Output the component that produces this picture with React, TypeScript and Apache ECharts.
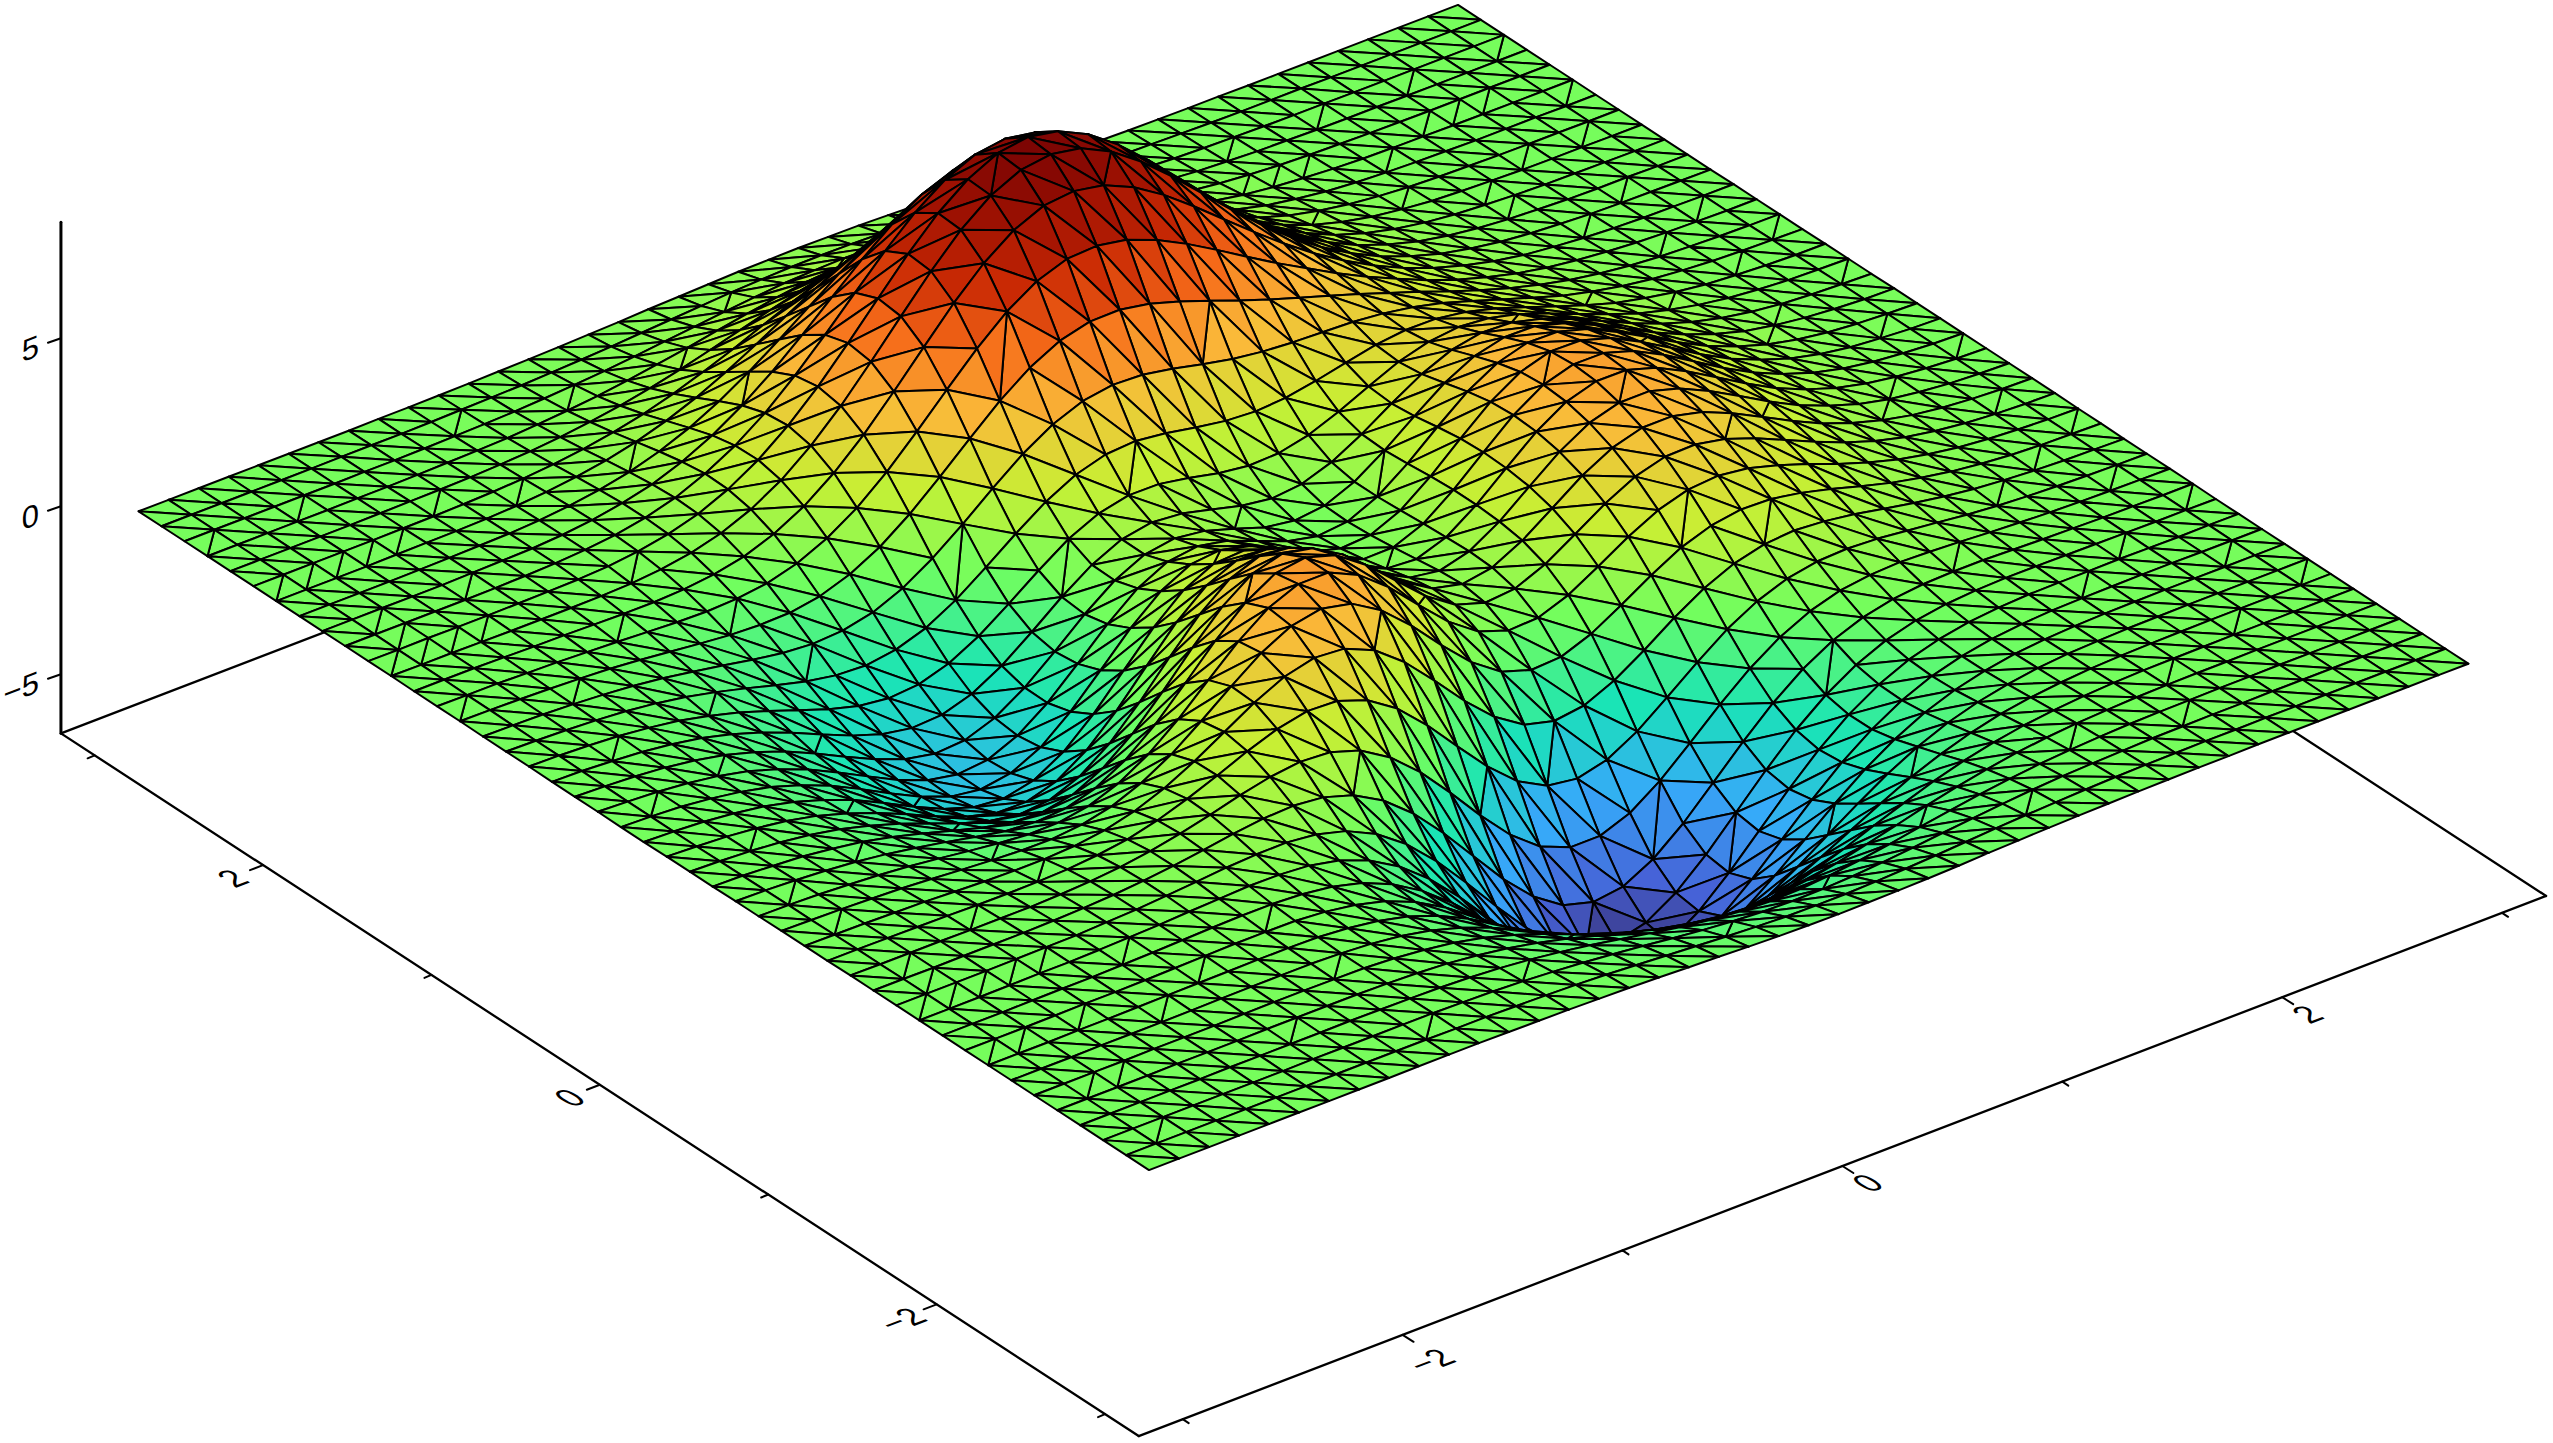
import React, { useEffect, useRef } from "react";
import * as echarts from "echarts";

// Grid positions along both ground axes.
const gridCoords = [-3,-2.864,-2.727,-2.591,-2.455,-2.318,-2.182,-2.045,-1.909,-1.773,-1.636,-1.5,-1.364,-1.227,-1.091,-0.955,-0.818,-0.682,-0.545,-0.409,-0.273,-0.136,0,0.136,0.273,0.409,0.545,0.682,0.818,0.955,1.091,1.227,1.364,1.5,1.636,1.773,1.909,2.045,2.182,2.318,2.455,2.591,2.727,2.864,3];

// Heights: typed, hand-worked estimates. Vertex-level values could not be read one by one from the
// picture, so they were worked out by hand from the surface's recognised shape (the "peaks" surface)
// and checked against its corners and peaks in the reference. One row per y, one column per x.
const heightRows = [
[0,0,0,0,0,0,0,0,0,0.01,0.01,0.01,0,-0.01,-0.02,-0.04,-0.06,-0.09,-0.13,-0.16,-0.2,-0.23,-0.25,-0.26,-0.25,-0.24,-0.22,-0.19,-0.15,-0.12,-0.09,-0.07,-0.05,-0.03,-0.02,-0.01,-0.01,0,0,0,0,0,0,0,0],
[0,0,0,0,0,0,0,0.01,0.01,0.01,0.01,0,0,-0.02,-0.04,-0.07,-0.11,-0.17,-0.23,-0.29,-0.35,-0.4,-0.44,-0.45,-0.45,-0.42,-0.38,-0.33,-0.27,-0.21,-0.16,-0.12,-0.08,-0.05,-0.03,-0.02,-0.01,-0.01,0,0,0,0,0,0,0],
[0,0,0,0,0,0,0,0.01,0.01,0.01,0.01,0.01,-0.01,-0.03,-0.07,-0.13,-0.2,-0.29,-0.39,-0.5,-0.6,-0.68,-0.74,-0.76,-0.75,-0.71,-0.64,-0.55,-0.45,-0.36,-0.27,-0.19,-0.13,-0.09,-0.06,-0.03,-0.02,-0.01,-0.01,0,0,0,0,0,0],
[0,0,0,0,0,0.01,0.01,0.01,0.01,0.02,0.01,0,-0.02,-0.06,-0.12,-0.21,-0.33,-0.47,-0.63,-0.8,-0.96,-1.09,-1.18,-1.22,-1.2,-1.13,-1.02,-0.88,-0.72,-0.57,-0.43,-0.31,-0.21,-0.14,-0.09,-0.05,-0.03,-0.02,-0.01,-0.01,0,0,0,0,0],
[0,0,0,0,0.01,0.01,0.01,0.02,0.02,0.02,0.02,0,-0.03,-0.09,-0.19,-0.32,-0.5,-0.72,-0.97,-1.22,-1.46,-1.66,-1.8,-1.86,-1.83,-1.72,-1.55,-1.33,-1.1,-0.86,-0.65,-0.47,-0.32,-0.21,-0.13,-0.08,-0.04,-0.02,-0.01,-0.01,0,0,0,0,0],
[0,0,0,0,0.01,0.01,0.01,0.02,0.03,0.03,0.02,0.01,-0.04,-0.13,-0.26,-0.45,-0.71,-1.02,-1.38,-1.75,-2.09,-2.39,-2.58,-2.67,-2.63,-2.48,-2.23,-1.92,-1.57,-1.24,-0.93,-0.67,-0.46,-0.3,-0.19,-0.11,-0.06,-0.03,-0.02,-0.01,0,0,0,0,0],
[0,0,0,0.01,0.01,0.01,0.02,0.03,0.04,0.04,0.04,0.01,-0.05,-0.16,-0.34,-0.6,-0.94,-1.36,-1.85,-2.35,-2.83,-3.23,-3.51,-3.63,-3.58,-3.38,-3.04,-2.61,-2.15,-1.69,-1.26,-0.91,-0.62,-0.4,-0.25,-0.15,-0.08,-0.04,-0.02,-0.01,0,0,0,0,0],
[0,0,0,0.01,0.01,0.02,0.03,0.04,0.05,0.06,0.06,0.04,-0.03,-0.16,-0.37,-0.69,-1.12,-1.65,-2.27,-2.91,-3.53,-4.07,-4.44,-4.61,-4.56,-4.31,-3.88,-3.34,-2.74,-2.15,-1.6,-1.14,-0.77,-0.5,-0.31,-0.17,-0.09,-0.05,-0.02,-0.01,0,0,0,0,0],
[0,0,0,0.01,0.02,0.02,0.03,0.05,0.07,0.09,0.09,0.08,0.01,-0.13,-0.36,-0.72,-1.23,-1.86,-2.61,-3.4,-4.17,-4.84,-5.31,-5.55,-5.51,-5.22,-4.71,-4.05,-3.32,-2.59,-1.92,-1.36,-0.91,-0.58,-0.35,-0.19,-0.1,-0.05,-0.02,-0.01,0,0,0,0,0],
[0,0,0,0.01,0.02,0.02,0.04,0.06,0.09,0.12,0.14,0.14,0.09,-0.03,-0.26,-0.64,-1.18,-1.88,-2.72,-3.63,-4.53,-5.33,-5.92,-6.23,-6.22,-5.92,-5.35,-4.6,-3.76,-2.92,-2.15,-1.51,-0.99,-0.61,-0.36,-0.19,-0.09,-0.03,-0.01,0,0.01,0.01,0,0,0],
[0,0,0,0.01,0.02,0.02,0.04,0.07,0.1,0.15,0.19,0.23,0.22,0.15,-0.04,-0.38,-0.9,-1.61,-2.49,-3.47,-4.46,-5.37,-6.07,-6.47,-6.53,-6.24,-5.66,-4.86,-3.96,-3.05,-2.22,-1.52,-0.97,-0.57,-0.31,-0.14,-0.05,0,0.01,0.01,0.02,0.01,0,0.01,0],
[0,0,0,0,0.01,0.02,0.03,0.07,0.11,0.18,0.25,0.33,0.38,0.39,0.29,0.05,-0.38,-1.02,-1.87,-2.86,-3.9,-4.89,-5.68,-6.18,-6.32,-6.1,-5.55,-4.76,-3.85,-2.93,-2.08,-1.38,-0.83,-0.44,-0.19,-0.05,0.02,0.05,0.05,0.04,0.03,0.02,0.01,0.01,0],
[0,0,-0.01,0,0,0,0.02,0.05,0.1,0.18,0.28,0.41,0.55,0.66,0.7,0.61,0.33,-0.17,-0.9,-1.82,-2.85,-3.88,-4.74,-5.34,-5.59,-5.47,-5,-4.28,-3.41,-2.53,-1.72,-1.05,-0.54,-0.2,0,0.1,0.13,0.13,0.1,0.07,0.05,0.03,0.02,0.01,0.01],
[0,-0.01,-0.01,-0.01,-0.02,-0.02,-0.02,0.01,0.06,0.14,0.27,0.45,0.67,0.91,1.11,1.22,1.16,0.87,0.32,-0.46,-1.41,-2.43,-3.35,-4.04,-4.41,-4.41,-4.07,-3.45,-2.68,-1.87,-1.14,-0.55,-0.12,0.15,0.27,0.31,0.28,0.23,0.17,0.12,0.08,0.05,0.03,0.02,0.01],
[-0.01,-0.01,-0.02,-0.03,-0.04,-0.06,-0.07,-0.06,-0.03,0.05,0.18,0.4,0.7,1.05,1.43,1.75,1.94,1.9,1.58,0.99,0.15,-0.82,-1.76,-2.54,-3.02,-3.15,-2.93,-2.43,-1.76,-1.06,-0.42,0.07,0.4,0.57,0.61,0.56,0.46,0.36,0.25,0.17,0.11,0.07,0.04,0.02,0.01],
[-0.01,-0.02,-0.03,-0.05,-0.07,-0.11,-0.15,-0.17,-0.17,-0.12,0,0.23,0.57,1.03,1.56,2.09,2.52,2.74,2.67,2.28,1.59,0.69,-0.25,-1.07,-1.65,-1.88,-1.76,-1.36,-0.8,-0.18,0.36,0.75,0.98,1.05,0.98,0.85,0.67,0.5,0.35,0.23,0.15,0.09,0.05,0.03,0.01],
[-0.01,-0.03,-0.05,-0.08,-0.12,-0.18,-0.25,-0.31,-0.36,-0.37,-0.28,-0.08,0.28,0.79,1.44,2.13,2.78,3.24,3.41,3.22,2.68,1.88,0.96,0.11,-0.52,-0.81,-0.76,-0.42,0.09,0.64,1.12,1.43,1.57,1.54,1.38,1.15,0.89,0.65,0.46,0.3,0.19,0.11,0.06,0.04,0.02],
[-0.02,-0.03,-0.06,-0.11,-0.17,-0.25,-0.36,-0.48,-0.59,-0.67,-0.66,-0.51,-0.18,0.35,1.05,1.87,2.68,3.33,3.7,3.7,3.29,2.58,1.71,0.87,0.23,-0.08,-0.04,0.29,0.8,1.34,1.79,2.06,2.13,2.01,1.76,1.45,1.11,0.81,0.56,0.37,0.23,0.14,0.08,0.04,0.02],
[-0.02,-0.04,-0.08,-0.14,-0.22,-0.34,-0.49,-0.66,-0.85,-1.02,-1.09,-1.03,-0.77,-0.27,0.45,1.33,2.25,3.04,3.57,3.7,3.43,2.8,1.99,1.19,0.58,0.3,0.38,0.76,1.31,1.88,2.34,2.59,2.61,2.43,2.11,1.72,1.32,0.96,0.66,0.43,0.27,0.16,0.09,0.05,0.03],
[-0.03,-0.05,-0.1,-0.16,-0.27,-0.41,-0.61,-0.85,-1.11,-1.36,-1.54,-1.58,-1.41,-0.97,-0.28,0.62,1.6,2.48,3.12,3.37,3.19,2.66,1.91,1.17,0.62,0.41,0.56,1.02,1.64,2.27,2.75,3.01,3.01,2.79,2.41,1.96,1.5,1.08,0.75,0.49,0.3,0.18,0.1,0.05,0.03],
[-0.03,-0.06,-0.11,-0.19,-0.31,-0.48,-0.72,-1,-1.34,-1.68,-1.95,-2.09,-2.01,-1.65,-1.01,-0.13,0.87,1.8,2.51,2.85,2.76,2.3,1.64,0.97,0.5,0.36,0.6,1.14,1.84,2.53,3.05,3.31,3.31,3.05,2.63,2.14,1.63,1.18,0.82,0.53,0.33,0.2,0.11,0.06,0.03],
[-0.03,-0.07,-0.12,-0.21,-0.34,-0.53,-0.8,-1.13,-1.51,-1.92,-2.27,-2.5,-2.51,-2.24,-1.66,-0.83,0.16,1.12,1.87,2.27,2.26,1.88,1.3,0.72,0.32,0.26,0.57,1.19,1.94,2.68,3.23,3.5,3.49,3.22,2.77,2.25,1.72,1.24,0.86,0.56,0.35,0.21,0.12,0.06,0.03],
[-0.04,-0.07,-0.12,-0.22,-0.35,-0.56,-0.84,-1.19,-1.62,-2.07,-2.48,-2.77,-2.86,-2.66,-2.15,-1.37,-0.42,0.52,1.29,1.73,1.78,1.48,0.98,0.48,0.16,0.17,0.53,1.19,1.97,2.73,3.29,3.56,3.55,3.27,2.82,2.28,1.74,1.26,0.87,0.57,0.35,0.21,0.12,0.06,0.03],
[-0.04,-0.07,-0.12,-0.22,-0.36,-0.56,-0.85,-1.21,-1.65,-2.12,-2.56,-2.9,-3.03,-2.89,-2.46,-1.74,-0.85,0.06,0.81,1.27,1.36,1.13,0.7,0.28,0.03,0.09,0.48,1.15,1.93,2.68,3.23,3.5,3.48,3.21,2.76,2.24,1.7,1.23,0.85,0.55,0.34,0.2,0.12,0.06,0.03],
[-0.03,-0.07,-0.12,-0.21,-0.34,-0.54,-0.82,-1.17,-1.6,-2.06,-2.51,-2.86,-3.03,-2.94,-2.56,-1.93,-1.11,-0.27,0.45,0.9,1.02,0.84,0.49,0.14,-0.05,0.04,0.44,1.08,1.83,2.54,3.05,3.31,3.29,3.03,2.6,2.11,1.61,1.16,0.8,0.52,0.32,0.19,0.11,0.06,0.03],
[-0.03,-0.06,-0.11,-0.19,-0.32,-0.5,-0.76,-1.08,-1.48,-1.92,-2.34,-2.68,-2.86,-2.8,-2.48,-1.92,-1.19,-0.42,0.24,0.67,0.81,0.69,0.41,0.11,-0.03,0.07,0.44,1.03,1.71,2.35,2.81,3.03,3.01,2.76,2.37,1.92,1.46,1.06,0.73,0.47,0.3,0.18,0.1,0.05,0.03],
[-0.03,-0.05,-0.1,-0.17,-0.28,-0.44,-0.67,-0.96,-1.31,-1.7,-2.08,-2.38,-2.54,-2.49,-2.21,-1.71,-1.05,-0.35,0.26,0.68,0.84,0.76,0.54,0.31,0.18,0.27,0.58,1.07,1.64,2.17,2.55,2.72,2.68,2.45,2.1,1.7,1.29,0.93,0.64,0.42,0.26,0.15,0.09,0.05,0.02],
[-0.02,-0.04,-0.08,-0.14,-0.24,-0.37,-0.57,-0.81,-1.11,-1.43,-1.74,-1.99,-2.1,-2.03,-1.75,-1.28,-0.66,-0.01,0.59,1,1.2,1.19,1.03,0.83,0.71,0.74,0.94,1.29,1.7,2.09,2.34,2.44,2.36,2.14,1.82,1.46,1.11,0.79,0.55,0.36,0.22,0.13,0.07,0.04,0.02],
[-0.02,-0.04,-0.07,-0.12,-0.19,-0.3,-0.45,-0.65,-0.88,-1.13,-1.36,-1.52,-1.57,-1.44,-1.14,-0.65,-0.02,0.64,1.25,1.71,1.97,2.03,1.92,1.75,1.6,1.54,1.6,1.76,1.96,2.15,2.25,2.24,2.1,1.86,1.56,1.24,0.93,0.66,0.46,0.3,0.18,0.11,0.06,0.03,0.02],
[-0.02,-0.03,-0.05,-0.09,-0.15,-0.23,-0.34,-0.49,-0.65,-0.82,-0.96,-1.03,-0.98,-0.78,-0.4,0.15,0.82,1.54,2.22,2.76,3.11,3.25,3.21,3.05,2.84,2.65,2.53,2.46,2.42,2.38,2.29,2.14,1.92,1.64,1.34,1.05,0.77,0.55,0.37,0.24,0.15,0.09,0.05,0.03,0.01],
[-0.01,-0.02,-0.04,-0.07,-0.11,-0.16,-0.24,-0.34,-0.44,-0.53,-0.57,-0.55,-0.4,-0.09,0.38,1.02,1.78,2.58,3.36,4,4.46,4.69,4.7,4.54,4.26,3.94,3.61,3.29,3,2.72,2.43,2.12,1.81,1.48,1.17,0.89,0.65,0.45,0.3,0.19,0.11,0.07,0.04,0.02,0.01],
[-0.01,-0.02,-0.02,-0.05,-0.07,-0.11,-0.15,-0.2,-0.25,-0.27,-0.23,-0.12,0.13,0.54,1.1,1.83,2.69,3.59,4.47,5.23,5.79,6.11,6.16,6,5.65,5.19,4.67,4.12,3.59,3.09,2.6,2.16,1.75,1.37,1.04,0.77,0.54,0.37,0.25,0.16,0.09,0.05,0.03,0.01,0.01],
[-0.01,-0.01,-0.01,-0.03,-0.05,-0.06,-0.08,-0.1,-0.1,-0.06,0.04,0.23,0.56,1.04,1.69,2.49,3.43,4.41,5.38,6.22,6.86,7.25,7.34,7.17,6.77,6.2,5.52,4.79,4.07,3.38,2.75,2.19,1.7,1.28,0.94,0.67,0.46,0.3,0.2,0.12,0.07,0.04,0.03,0.01,0.01],
[0,-0.01,-0.01,-0.02,-0.03,-0.03,-0.03,-0.02,0.01,0.09,0.24,0.48,0.85,1.37,2.06,2.9,3.87,4.88,5.88,6.77,7.45,7.87,7.99,7.83,7.39,6.75,5.98,5.14,4.3,3.5,2.78,2.15,1.62,1.18,0.85,0.58,0.39,0.25,0.16,0.1,0.05,0.03,0.02,0.01,0],
[0,-0.01,0,-0.01,-0.01,0,0.01,0.03,0.08,0.18,0.35,0.61,1,1.53,2.21,3.03,3.98,4.97,5.95,6.82,7.49,7.93,8.06,7.89,7.46,6.81,6.01,5.14,4.26,3.43,2.68,2.03,1.5,1.07,0.75,0.5,0.33,0.21,0.13,0.08,0.04,0.02,0.02,0,0],
[0,0,0,0,0,0.01,0.03,0.06,0.12,0.22,0.39,0.64,1.02,1.51,2.14,2.91,3.78,4.69,5.59,6.39,7.02,7.43,7.56,7.41,7,6.39,5.63,4.8,3.96,3.16,2.44,1.83,1.33,0.93,0.64,0.42,0.27,0.17,0.11,0.06,0.03,0.02,0.01,0,0],
[0,0,0,0,0,0.02,0.04,0.06,0.12,0.22,0.38,0.6,0.93,1.37,1.92,2.58,3.33,4.12,4.9,5.6,6.15,6.5,6.62,6.49,6.13,5.6,4.93,4.19,3.44,2.73,2.1,1.56,1.13,0.78,0.53,0.34,0.22,0.13,0.08,0.05,0.02,0.01,0.01,0,0],
[0,0,0,0,0.01,0.02,0.04,0.06,0.11,0.2,0.33,0.52,0.79,1.15,1.6,2.14,2.75,3.39,4.03,4.6,5.05,5.34,5.44,5.34,5.04,4.6,4.05,3.43,2.82,2.23,1.7,1.26,0.9,0.62,0.42,0.27,0.17,0.1,0.06,0.04,0.02,0.01,0.01,0,0],
[0,0,0,0,0.01,0.02,0.03,0.05,0.09,0.16,0.27,0.42,0.63,0.91,1.26,1.68,2.16,2.66,3.15,3.6,3.95,4.18,4.25,4.17,3.94,3.6,3.16,2.68,2.19,1.73,1.32,0.98,0.69,0.47,0.32,0.2,0.13,0.08,0.05,0.03,0.01,0.01,0.01,0,0],
[0,0,0,0,0,0.01,0.02,0.04,0.07,0.12,0.2,0.31,0.47,0.67,0.93,1.24,1.58,1.95,2.31,2.63,2.89,3.05,3.11,3.05,2.88,2.63,2.31,1.96,1.6,1.26,0.96,0.71,0.5,0.34,0.23,0.15,0.09,0.05,0.03,0.02,0.01,0,0,0,0],
[0,0,0,0,0,0.01,0.02,0.03,0.05,0.09,0.14,0.22,0.33,0.47,0.65,0.86,1.1,1.35,1.6,1.83,2,2.12,2.16,2.12,2,1.83,1.61,1.36,1.11,0.88,0.67,0.49,0.35,0.24,0.16,0.1,0.06,0.04,0.02,0.01,0,0,0,0,0],
[0,0,0,0,0,0.01,0.01,0.02,0.04,0.06,0.09,0.15,0.22,0.31,0.43,0.57,0.72,0.89,1.05,1.2,1.32,1.39,1.42,1.39,1.32,1.2,1.06,0.89,0.73,0.57,0.44,0.32,0.23,0.15,0.1,0.06,0.04,0.02,0.01,0.01,0,0,0,0,0],
[0,0,0,0,0,0,0.01,0.01,0.02,0.04,0.06,0.09,0.14,0.2,0.27,0.36,0.46,0.56,0.66,0.75,0.83,0.87,0.89,0.87,0.83,0.75,0.66,0.56,0.46,0.36,0.27,0.2,0.14,0.09,0.06,0.04,0.02,0.01,0.01,0,0,0,0,0,0],
[0,0,0,0,0,0,0.01,0.01,0.01,0.02,0.04,0.06,0.08,0.12,0.16,0.21,0.27,0.33,0.39,0.45,0.49,0.52,0.53,0.52,0.49,0.45,0.39,0.33,0.27,0.21,0.16,0.12,0.08,0.06,0.04,0.02,0.01,0.01,0.01,0,0,0,0,0,0],
[0,0,0,0,0,0,0,0,0.01,0.01,0.02,0.03,0.05,0.07,0.09,0.12,0.15,0.19,0.22,0.25,0.28,0.29,0.3,0.29,0.28,0.25,0.22,0.19,0.15,0.12,0.09,0.07,0.05,0.03,0.02,0.01,0.01,0,0,0,0,0,0,0,0],
];

// Cells [row, column] whose diagonal runs the steep way instead of the flat way.
const flippedCells = [
[41,0],[41,3],[38,0],[38,1],[38,2],[38,3],[38,4],[35,1],[34,1],[33,0],[33,1],[33,2],[33,3],[35,4],[30,0],[39,6],
[41,43],[41,40],[38,43],[39,41],[39,40],[39,39],[41,37],[36,42],[36,40],[38,37],[39,35],[39,34],[41,34],[39,33],[34,38],[36,36],
[1,1],[4,1],[7,0],[10,0],[10,1],[10,2],[10,3],[10,4],[15,1],[12,1],[11,1],[7,3],[7,1],[4,2],
[42,9],[41,12],[40,15],[42,18],[41,21],[40,24],[42,27],[41,30],[38,8],[37,11],[36,14],[38,27],[37,30],[36,33],[35,38],[33,41],[32,39],[31,42],[29,43],[30,40],[28,41],[27,38],[26,43],[25,40],[23,42],[24,39],[21,43],[20,40],[18,42],[19,39],[16,43],[15,41],[13,42],[14,39],[11,43],[10,40],[8,42],[9,38],[6,43],
[5,40],[4,37],[3,33],[2,36],[1,30],[3,28],[2,24],[1,20],[4,17],[2,14],[1,10],[3,7],[5,10],[6,5],[7,7],[8,10],[9,6],[13,4],[14,7],[17,1],[18,4],[20,2],[21,6],[23,1],[24,4],[26,2],[27,6],[29,3],[31,6],[30,9],[33,8],[28,10],[25,8],[22,9],[19,8],[16,7],
[33,20],[32,23],[30,18],[29,24],[27,20],[28,15],[26,17],[25,22],[24,26],[22,19],[21,24],[19,20],[18,17],[17,22],[15,19],[14,24],[13,21],[12,26],[11,23],[10,27],[9,22],[8,25],[7,20],[12,16],[16,30],[18,33],[20,31],[23,34],[26,32],[28,36],[22,30],[19,35],[15,32],[12,36],[11,31],[6,30],[7,28],
];

const xTicksMajor = [-2, 0, 2];
const xTicksMinor = [-3, -1, 1, 3];
const yTicksMajor = [-2, 0, 2];
const yTicksMinor = [-3, -1, 1, 3];
const zTicksMajor = [-5, 0, 5];
const xRange = [-3.2, 3.2];
const yRange = [-3.2, 3.2];
const zRange = [-6.76, 8.45];

const turbo = ["#30123b","#4662d7","#36aaf9","#1ae4b6","#72fe5e","#c8ef34","#faba39","#f66b19","#ca2a04","#a01202","#7a0403"];
// Height to colour-ramp position, matched by eye against the reference's bands.
const colorHeights = [-6.6, 0, 3.5, 5, 8.1];
const colorPositions = [0.03, 0.405, 0.63, 0.74, 1];

const project = (x: number, y: number, z: number) => [
  1303.5 - 168.4 * y + 219.9 * x,
  587.5 - 109.8 * y - 84.4 * x - 33.6 * z,
];

const colorOf = (z: number) => {
  let k = 0;
  while (k < colorHeights.length - 2 && z > colorHeights[k + 1]) k++;
  const f = (z - colorHeights[k]) / (colorHeights[k + 1] - colorHeights[k]);
  const t = colorPositions[k] + f * (colorPositions[k + 1] - colorPositions[k]);
  return echarts.color.lerp(Math.max(0, Math.min(1, t)), turbo) as string;
};

const label = (v: number) => (v < 0 ? "\u2212" + Math.abs(v) : String(v));

const buildTriangles = () => {
  const flips = new Set(flippedCells.map(([r, c]) => r + "_" + c));
  const out: number[][] = [];
  const vert = (r: number, c: number) => [gridCoords[c], gridCoords[r], heightRows[r][c]];
  for (let r = gridCoords.length - 2; r >= 0; r--) {
    for (let c = gridCoords.length - 2; c >= 0; c--) {
      const a = vert(r, c), b = vert(r, c + 1), d = vert(r + 1, c), e = vert(r + 1, c + 1);
      if (flips.has(r + "_" + c)) {
        out.push([...a, ...b, ...e], [...a, ...d, ...e]);
      } else {
        out.push([...d, ...e, ...b], [...d, ...a, ...b]);
      }
    }
  }
  return out;
};

export default function App() {
  const ref = useRef<HTMLDivElement>(null);
  useEffect(() => {
    document.body.style.margin = "0";
    document.body.style.overflow = "hidden";
    const chart = echarts.init(ref.current!, undefined, { renderer: "svg" });
    const [x0, x1] = xRange, [y0, y1] = yRange, [z0, z1] = zRange;
    const frame = [
      [x0, y1, z0, x0, y1, z1],
      [x0, y1, z0, x0, y0, z0],
      [x0, y0, z0, x1, y0, z0],
      [x1, y0, z0, x1, y1, z0],
      [x1, y1, z0, x0, y1, z0],
    ];
    const ticks: number[][] = [
      ...yTicksMajor.map((v) => [x0, v, z0, -13, 5]),
      ...yTicksMinor.map((v) => [x0, v, z0, -7, 3]),
      ...xTicksMajor.map((v) => [v, y0, z0, 11, 7]),
      ...xTicksMinor.map((v) => [v, y0, z0, 6, 4]),
      ...zTicksMajor.map((v) => [x0, y1, v, -13, 4.5]),
    ];
    const rotBase = Math.atan(84.4 / 219.9);
    const labels: any[] = [
      ...yTicksMajor.map((v) => ({ value: [x0, v, z0], text: label(v), kind: "base", off: v < 0 ? [-35, 15.5] : [-30.5, 13] })),
      ...xTicksMajor.map((v) => ({ value: [v, y0, z0], text: label(v), kind: "base", off: v < 0 ? [28, 26] : [25, 17] })),
      ...zTicksMajor.map((v) => ({ value: [x0, y1, v], text: label(v), kind: "wall", off: [-22, 7] })),
    ];
    const line = (p: number[], q: number[], w: number) => ({
      type: "line",
      shape: { x1: p[0], y1: p[1], x2: q[0], y2: q[1] },
      style: { stroke: "#000", lineWidth: w, lineCap: "round" },
    });
    chart.setOption({
      animation: false,
      backgroundColor: "#fff",
      grid: { left: 0, top: 0, right: 0, bottom: 0 },
      xAxis: { type: "value", min: 0, max: 2553, show: false },
      yAxis: { type: "value", min: 0, max: 1443, inverse: true, show: false },
      series: [
        {
          type: "custom", name: "frame", silent: true, clip: false, z: 1, data: frame,
          renderItem: (params: any, api: any) => {
            const p = api.coord(project(api.value(0), api.value(1), api.value(2)));
            const q = api.coord(project(api.value(3), api.value(4), api.value(5)));
            return line(p, q, params.dataIndex === 0 ? 3 : 2.3);
          },
        },
        {
          type: "custom", name: "ticks", silent: true, clip: false, z: 1, data: ticks,
          renderItem: (_: any, api: any) => {
            const p = api.coord(project(api.value(0), api.value(1), api.value(2)));
            return line(p, [p[0] + api.value(3), p[1] + api.value(4)], 2);
          },
        },
        {
          type: "custom", name: "surface", silent: true, clip: false, z: 2, progressive: 0, data: buildTriangles(),
          renderItem: (_: any, api: any) => {
            const pts = [0, 3, 6].map((k) => api.coord(project(api.value(k), api.value(k + 1), api.value(k + 2))));
            const mean = (api.value(2) + api.value(5) + api.value(8)) / 3;
            return {
              type: "polygon",
              shape: { points: pts },
              style: { fill: colorOf(mean), stroke: "#000", lineWidth: 2, lineJoin: "round" },
            };
          },
        },
        {
          type: "custom", name: "labels", silent: true, clip: false, z: 3, data: labels,
          renderItem: (params: any, api: any) => {
            const d = labels[params.dataIndex];
            const p = api.coord(project(d.value[0], d.value[1], d.value[2]));
            const base = d.kind === "base";
            return {
              type: "text",
              x: p[0] + d.off[0],
              y: p[1] + d.off[1],
              rotation: base ? rotBase : 0,
              scaleX: 1,
              scaleY: base ? 0.91 : 1,
              skewX: base ? 0.627 : 0,
              skewY: base ? 0 : 0.3667,
              style: {
                text: d.text,
                font: (base ? 32 : 31) + "px 'Liberation Sans'",
                fill: "#000",
                align: base ? "center" : "right",
                verticalAlign: "middle",
              },
            };
          },
        },
      ],
    });
    return () => chart.dispose();
  }, []);
  return <div ref={ref} style={{ position: "absolute", left: 0, top: 0, width: 2553, height: 1443 }} />;
}
